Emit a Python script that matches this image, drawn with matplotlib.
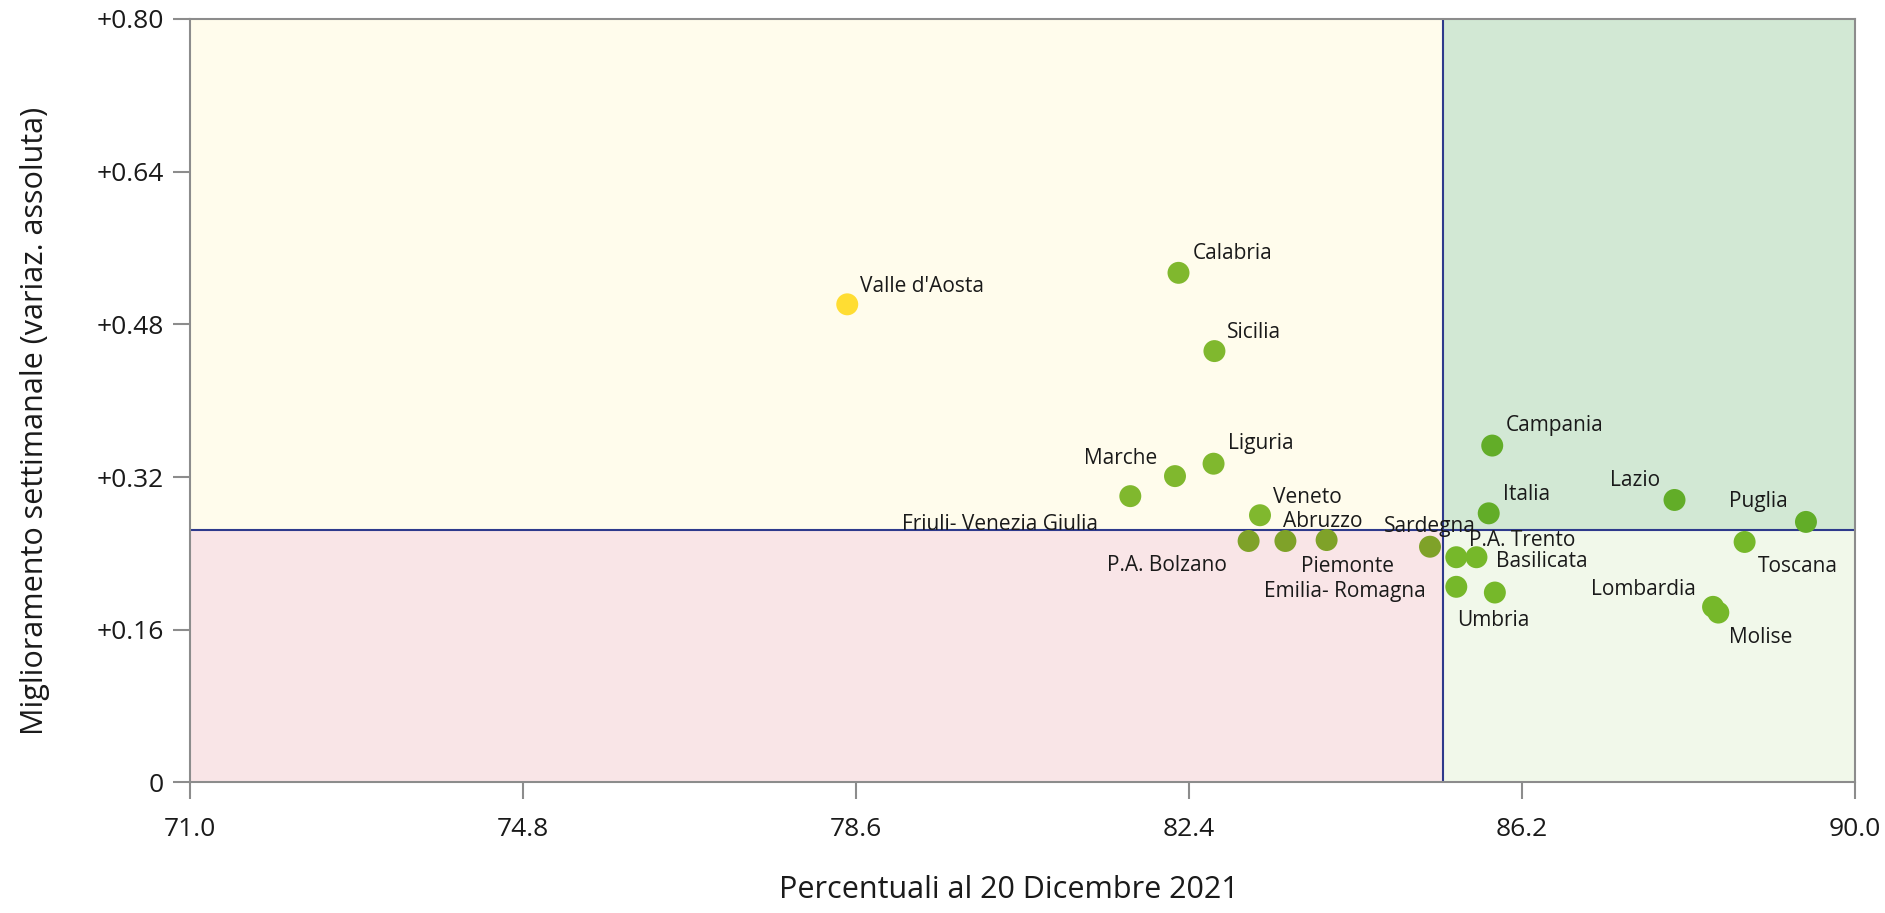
import matplotlib
matplotlib.use("Agg")
import matplotlib.pyplot as plt
from matplotlib.patches import Rectangle

plt.rcParams['font.family'] = ['Open Sans', 'DejaVu Sans']

# dati
regioni = ["Valle d'Aosta", "Calabria", "Sicilia", "Liguria", "Marche",
           "Friuli- Venezia Giulia", "Veneto", "P.A. Bolzano", "Abruzzo", "Piemonte",
           "Sardegna", "Emilia- Romagna", "P.A. Trento", "Basilicata", "Umbria",
           "Campania", "Italia", "Lazio", "Puglia", "Toscana", "Lombardia", "Molise"]
percentuali = [78.50, 82.28, 82.69, 82.68, 82.24,
               81.73, 83.21, 83.08, 83.50, 83.97,
               85.15, 85.45, 85.45, 85.68, 85.89,
               85.86, 85.82, 87.94, 89.44, 88.74, 88.38, 88.44]
miglioramento = [0.501, 0.534, 0.452, 0.334, 0.321,
                 0.300, 0.280, 0.253, 0.253, 0.254,
                 0.247, 0.205, 0.236, 0.236, 0.199,
                 0.353, 0.282, 0.296, 0.273, 0.252, 0.184, 0.178]
media_x = 85.30
media_y = 0.2646

xticks = [71.0, 74.8, 78.6, 82.4, 86.2, 90.0]
yticks = [0, 0.16, 0.32, 0.48, 0.64, 0.80]

# colori e posizione etichette (offset in pixel)
colori = ["#ffdd33"] + ["#80b82e"] * 6 + ["#7fa229"] * 4 + ["#76b82a"] * 4 \
         + ["#62ad28"] * 4 + ["#76b82a"] * 3
offset = [(13, 18, "left"), (14, 19, "left"), (13, 19, "left"), (14, 20, "left"),
          (-18, 18, "right"), (-32, -28, "right"), (13, 18, "left"), (-22, -25, "right"),
          (-2, 19, "left"), (-26, -26, "left"), (0, 20, "center"), (-31, -5, "right"),
          (13, 17, "left"), (20, -4, "left"), (-2, -28, "center"), (14, 20, "left"),
          (14, 19, "left"), (-14, 19, "right"), (-18, 20, "right"), (13, -25, "left"),
          (-17, 17, "right"), (11, -25, "left")]

fig = plt.figure(figsize=(18.85, 9.13), dpi=100)
ax = fig.add_axes([0.1008, 0.1430, 0.8833, 0.8362])

x0, x1 = xticks[0], xticks[-1]
y0, y1 = yticks[0], yticks[-1]
ax.set_xlim(x0, x1)
ax.set_ylim(y0, y1)

# quadranti
ax.add_patch(Rectangle((x0, media_y), media_x - x0, y1 - media_y, color="#fffcec", zorder=0, lw=0))
ax.add_patch(Rectangle((media_x, media_y), x1 - media_x, y1 - media_y, color="#d2e8d4", zorder=0, lw=0))
ax.add_patch(Rectangle((x0, y0), media_x - x0, media_y - y0, color="#f9e5e7", zorder=0, lw=0))
ax.add_patch(Rectangle((media_x, y0), x1 - media_x, media_y - y0, color="#f1f8ea", zorder=0, lw=0))
ax.axvline(media_x, color="#2e3a8c", lw=1.5, zorder=1)
ax.axhline(media_y, color="#2e3a8c", lw=1.5, zorder=1)

ax.scatter(percentuali, miglioramento, s=250, c=colori, edgecolors="none", zorder=3)

for nome, xx, yy, (dx, dy, ha) in zip(regioni, percentuali, miglioramento, offset):
    ax.annotate(nome, (xx, yy), xytext=(dx, dy), textcoords="offset pixels",
                ha=ha, va="center", fontsize=15, color="#1a1a1a", zorder=4)

ax.set_xticks(xticks)
ax.set_xticklabels(["%.1f" % v for v in xticks])
ax.set_yticks(yticks)
ax.set_yticklabels(["0" if v == 0 else "+%.2f" % v for v in yticks])
ax.tick_params(axis="both", length=12, width=1.5, color="#8c8c8c", labelsize=19, labelcolor="#1a1a1a")
ax.tick_params(axis="x", pad=13)
ax.tick_params(axis="y", pad=7)
for s in ax.spines.values():
    s.set_color("#8c8c8c")
    s.set_linewidth(1.5)
    s.set_zorder(5)

ax.set_xlabel("Percentuali al 20 Dicembre 2021", fontsize=22, color="#1a1a1a", labelpad=24)
ax.set_ylabel("Miglioramento settimanale (variaz. assoluta)", fontsize=22, color="#1a1a1a", labelpad=33)
ax.xaxis.label.set_x(0.492)
ax.yaxis.label.set_y(0.474)

fig.savefig("out.png", dpi=100)
